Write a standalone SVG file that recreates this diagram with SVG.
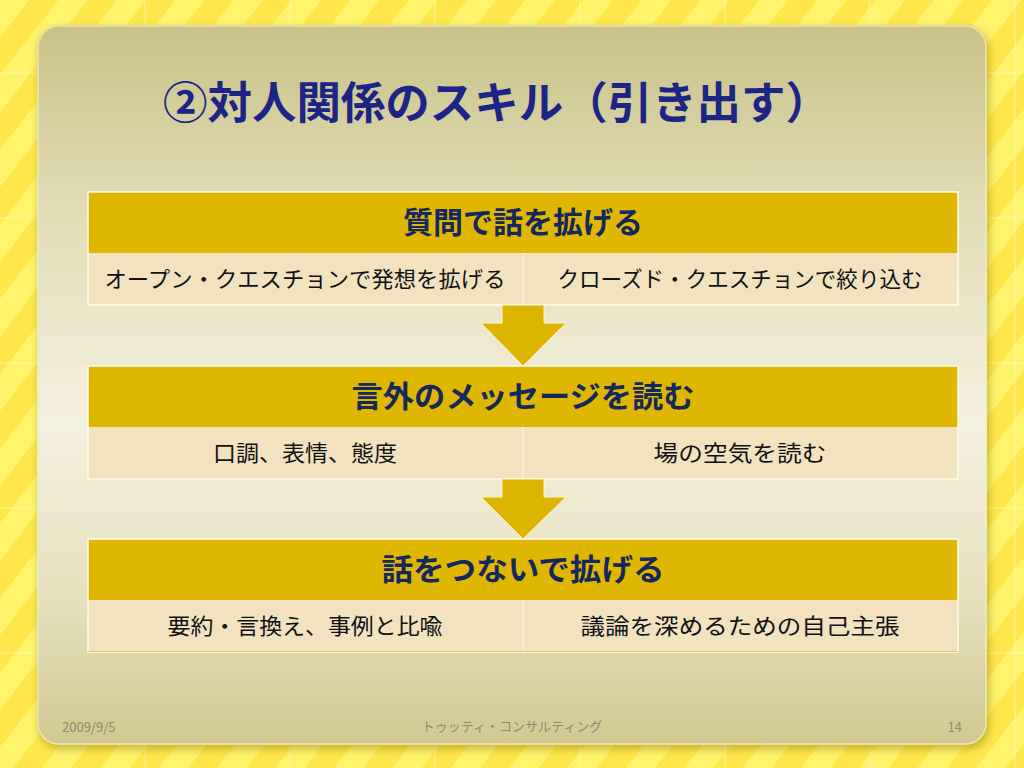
<svg xmlns="http://www.w3.org/2000/svg" width="1024" height="768" viewBox="0 0 1024 768">
  <defs>
    <pattern id="stripes" width="46" height="46" patternUnits="userSpaceOnUse" patternTransform="rotate(38)">
      <rect width="46" height="46" fill="#FFE74B"/>
      <rect width="23" height="46" fill="#FFF46C"/>
    </pattern>
    <linearGradient id="panelGrad" x1="0" y1="0" x2="0" y2="1">
      <stop offset="0" stop-color="#C8C187"/>
      <stop offset="0.25" stop-color="#E2DCB6"/>
      <stop offset="0.55" stop-color="#F4F0DE"/>
      <stop offset="0.8" stop-color="#E6E0BE"/>
      <stop offset="1" stop-color="#CFC88F"/>
    </linearGradient>
    <filter id="shadow" x="-5%" y="-5%" width="110%" height="110%">
      <feDropShadow dx="2" dy="4" stdDeviation="4" flood-color="#7A6A00" flood-opacity="0.45"/>
    </filter>
    <style>
      .title { font-family: "Noto Sans CJK JP", "Noto Sans", sans-serif; font-weight: bold; font-size: 44px; fill: #1C2585; }
      .head { fill: #E0B700; }
      .row { fill: #F2E2BF; }
      .htext { font-family: "Noto Sans CJK JP", "Noto Sans", sans-serif; font-weight: bold; font-size: 30px; fill: #14285E; text-anchor: middle; }
      .rtext { font-family: "Noto Sans CJK JP", "Noto Sans", sans-serif; font-size: 22px; fill: #111111; text-anchor: middle; }
      .foot { font-family: "Noto Sans CJK JP", "Noto Sans", sans-serif; font-size: 13px; fill: #8E8C72; }
      .divider { stroke: #FAF1DA; stroke-width: 1.5; }
      .frame { fill: none; stroke: #FFFBEA; stroke-width: 1.5; }
      .arrow { fill: #DDB400; stroke: #FFF6D0; stroke-width: 1; }
      .grid { stroke: #FFFFFF; stroke-width: 1; opacity: 0.45; }
    </style>
  </defs>

  <rect width="1024" height="768" fill="url(#stripes)"/>
  <g id="grid">
    <line class="grid" x1="145" y1="0" x2="145" y2="768"/>
    <line class="grid" x1="290" y1="0" x2="290" y2="768"/>
    <line class="grid" x1="435" y1="0" x2="435" y2="768"/>
    <line class="grid" x1="580" y1="0" x2="580" y2="768"/>
    <line class="grid" x1="725" y1="0" x2="725" y2="768"/>
    <line class="grid" x1="870" y1="0" x2="870" y2="768"/>
    <line class="grid" x1="1015" y1="0" x2="1015" y2="768"/>
    <line class="grid" x1="0" y1="73" x2="1024" y2="73"/>
    <line class="grid" x1="0" y1="218" x2="1024" y2="218"/>
    <line class="grid" x1="0" y1="363" x2="1024" y2="363"/>
    <line class="grid" x1="0" y1="508" x2="1024" y2="508"/>
    <line class="grid" x1="0" y1="653" x2="1024" y2="653"/>
  </g>

  <g id="panel">
    <rect x="37" y="25" width="950" height="720" rx="22" fill="url(#panelGrad)" filter="url(#shadow)"/>
    <rect x="38" y="26" width="948" height="718" rx="21" fill="none" stroke="#F2EDB8" stroke-width="1.5" opacity="0.8"/>
  </g>

  <g id="title">
    <text class="title" x="163" y="119" textLength="667" lengthAdjust="spacingAndGlyphs">②対人関係のスキル（引き出す）</text>
  </g>

  <g id="section1">
    <rect class="head" x="88" y="192" width="870" height="61"/>
    <rect class="row" x="88" y="253" width="870" height="52"/>
    <line class="divider" x1="523" y1="253" x2="523" y2="305"/>
    <rect class="frame" x="88" y="192" width="870" height="113"/>
    <text class="htext" x="523" y="233">質問で話を拡げる</text>
    <text class="rtext" x="305" y="287" textLength="401" lengthAdjust="spacingAndGlyphs">オープン・クエスチョンで発想を拡げる</text>
    <text class="rtext" x="740" y="287" textLength="365" lengthAdjust="spacingAndGlyphs">クローズド・クエスチョンで絞り込む</text>
  </g>

  <g id="section2">
    <rect class="head" x="88" y="366" width="870" height="61"/>
    <rect class="row" x="88" y="427" width="870" height="52"/>
    <line class="divider" x1="523" y1="427" x2="523" y2="479"/>
    <rect class="frame" x="88" y="366" width="870" height="113"/>
    <text class="htext" x="523" y="407" textLength="343" lengthAdjust="spacingAndGlyphs">言外のメッセージを読む</text>
    <text class="rtext" x="305" y="461" textLength="184" lengthAdjust="spacingAndGlyphs">口調、表情、態度</text>
    <text class="rtext" x="740" y="461" textLength="173" lengthAdjust="spacingAndGlyphs">場の空気を読む</text>
  </g>

  <g id="section3">
    <rect class="head" x="88" y="539" width="870" height="61"/>
    <rect class="row" x="88" y="600" width="870" height="52"/>
    <line class="divider" x1="523" y1="600" x2="523" y2="652"/>
    <rect class="frame" x="88" y="539" width="870" height="113"/>
    <line x1="88" y1="651.5" x2="958" y2="651.5" stroke="#E6C95A" stroke-width="1"/>
    <text class="htext" x="523" y="580" textLength="283" lengthAdjust="spacingAndGlyphs">話をつないで拡げる</text>
    <text class="rtext" x="305" y="634" textLength="275" lengthAdjust="spacingAndGlyphs">要約・言換え、事例と比喩</text>
    <text class="rtext" x="740" y="634" textLength="319" lengthAdjust="spacingAndGlyphs">議論を深めるための自己主張</text>
  </g>

  <g id="connectors">
    <polygon class="arrow" points="502,305 544,305 544,323 566,323 523,366 481,323 502,323"/>
    <polygon class="arrow" points="502,479 544,479 544,497 566,497 523,539 481,497 502,497"/>
  </g>

  <g id="footer">
    <text class="foot" x="62" y="732">2009/9/5</text>
    <text class="foot" x="512" y="731" text-anchor="middle" font-size="12">トゥッティ・コンサルティング</text>
    <text class="foot" x="962" y="732" text-anchor="end">14</text>
  </g>
</svg>
